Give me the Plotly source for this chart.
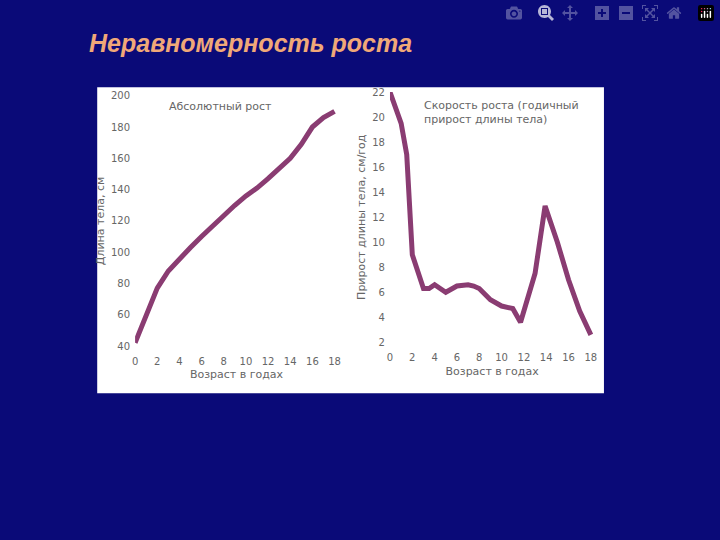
import plotly.graph_objects as go

age_abs = list(range(19))
height_cm = [42, 60, 77, 88, 96, 103, 110, 117, 124, 130, 136, 141, 147, 153, 160, 169, 180, 186, 190]

age_vel = [0, 1, 1.5, 2, 3, 3.5, 4, 5, 6, 7, 7.5, 8, 9, 10, 11, 11.7, 13, 13.9, 15, 16, 17, 18]
velocity = [22, 19.5, 17, 9, 6.3, 6.3, 6.6, 6.0, 6.5, 6.6, 6.5, 6.3, 5.4, 4.9, 4.7, 3.6, 7.5, 12.9, 10, 7, 4.5, 2.6]

x_ticks = list(range(0, 19, 2))
line_color = "#8a3c72"
grey = "#666666"
font = "DejaVu Sans"

fig = go.Figure()
fig.add_trace(go.Scatter(x=age_abs, y=height_cm, mode="lines",
                         line=dict(color=line_color, width=5), xaxis="x", yaxis="y"))
fig.add_trace(go.Scatter(x=age_vel, y=velocity, mode="lines",
                         line=dict(color=line_color, width=5), xaxis="x2", yaxis="y2"))

axis_common = dict(showgrid=False, zeroline=False, showline=False, ticks="",
                   tickfont=dict(size=10, color=grey, family=font))
title_font = dict(size=11, color=grey, family=font)

fig.update_layout(
    width=720, height=540, showlegend=False,
    paper_bgcolor="#0a0a78", plot_bgcolor="white",
    margin=dict(l=0, r=0, t=0, b=0),
    xaxis=dict(domain=[0.185, 0.469], anchor="y", range=[0, 18.3], tickvals=x_ticks,
               ticklabelstandoff=8,
               title=dict(text="Возраст в годах", font=title_font, standoff=4),
               **axis_common),
    yaxis=dict(domain=[0.356, 0.830], anchor="x", range=[40, 200], tickvals=list(range(40, 201, 20)),
               ticklabelstandoff=4,
               title=dict(text="Длина тела, см", font=title_font, standoff=4),
               **axis_common),
    xaxis2=dict(domain=[0.542, 0.828], anchor="y2", range=[0, 18.3], tickvals=x_ticks,
                ticklabelstandoff=8,
                title=dict(text="Возраст в годах", font=title_font, standoff=4),
                **axis_common),
    yaxis2=dict(domain=[0.363, 0.837], anchor="x2", range=[2, 22], tickvals=list(range(2, 23, 2)),
                ticklabelstandoff=4,
                title=dict(text="Прирост длины тела, см/год", font=title_font, standoff=4),
                **axis_common),
    shapes=[dict(type="rect", xref="paper", yref="paper", x0=95/720, x1=606/720,
                 y0=1-396/540, y1=1-83/540, fillcolor="white", line=dict(width=0), layer="below")],
    annotations=[
        dict(text="<b><i>Неравномерность роста</i></b>", xref="paper", yref="paper",
             x=85/720, y=1-38/540, xanchor="left", yanchor="middle", showarrow=False,
             font=dict(size=25, color="#f0a878", family="Liberation Sans")),
        dict(text="Абсолютный рост", xref="paper", yref="paper", x=165/720, y=1-103/540,
             xanchor="left", yanchor="middle", showarrow=False, font=title_font),
        dict(text="Скорость роста (годичный<br>прирост длины тела)", xref="paper", yref="paper",
             x=423/720, y=1-109/540, xanchor="left", yanchor="middle", showarrow=False, align="left",
             font=title_font),
    ],
)

fig.write_html("out.html", post_script="document.body.style.margin='0';")
